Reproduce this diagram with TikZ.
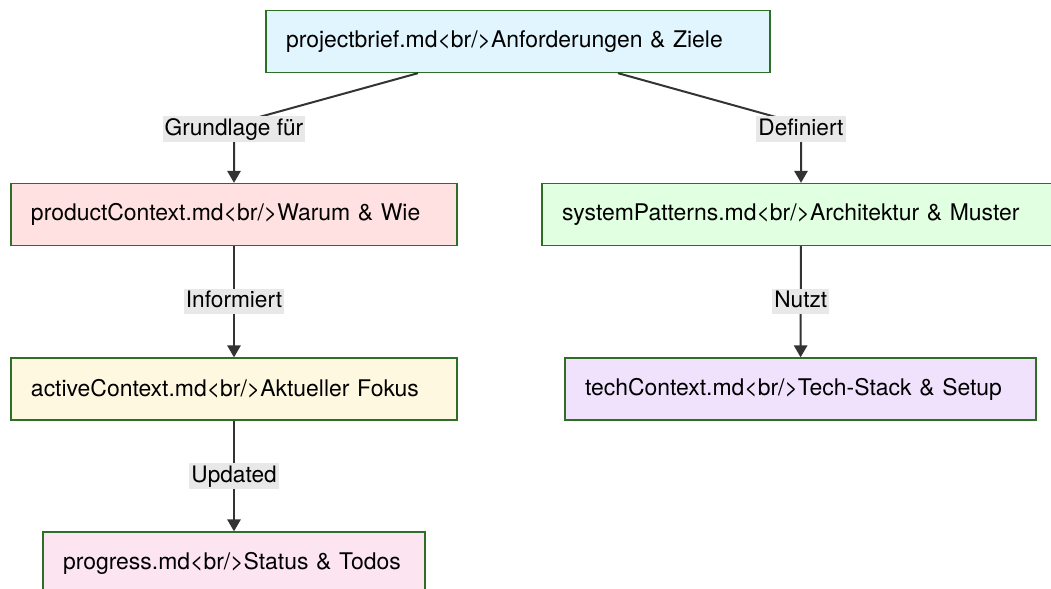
\documentclass[tikz,border=0pt]{standalone}
\usepackage{fontspec}
\setmainfont{TeX Gyre Heros}
\usetikzlibrary{arrows.meta}
\definecolor{boxgreen}{RGB}{46,110,38}
\definecolor{fillbrief}{RGB}{225,245,254}
\definecolor{fillproduct}{RGB}{255,225,225}
\definecolor{fillsystem}{RGB}{225,255,225}
\definecolor{fillactive}{RGB}{255,248,225}
\definecolor{filltech}{RGB}{240,225,252}
\definecolor{fillprogress}{RGB}{252,228,240}
\definecolor{labelgray}{RGB}{232,232,232}
\definecolor{linegray}{RGB}{51,51,51}

\begin{document}
\begin{tikzpicture}[x=0.75pt, y=-0.75pt,
    mdfile/.style={draw=boxgreen, line width=1pt, minimum height=46.5pt, inner xsep=15pt, inner ysep=0pt, text width=#1, align=left, font=\fontsize{17.2}{20}\selectfont},
    link/.style={draw=linegray, line width=1.5pt, rounded corners=12pt, -{Triangle[length=9pt, width=10pt]}},
    edgelabel/.style={fill=labelgray, sharp corners, inner sep=1.5pt, text height=12.5pt, text depth=3.5pt, text=black, font=\fontsize{17}{20}\selectfont}]
    \useasboundingbox (0,0) rectangle (1051,589);
    % Nodes
    \node[mdfile=348pt, fill=fillbrief] (brief) at (518,41.5) {projectbrief.md<br/>Anforderungen \& Ziele};
    \node[mdfile=304.5pt, fill=fillproduct] (product) at (234,214.5) {productContext.md<br/>Warum \& Wie};
    \node[mdfile=358.5pt, fill=fillsystem] (system) at (801,214.5) {systemPatterns.md<br/>Architektur \& Muster};
    \node[mdfile=304.5pt, fill=fillactive] (active) at (234,389) {activeContext.md<br/>Aktueller Fokus};
    \node[mdfile=323.25pt, fill=filltech] (tech) at (800.5,389) {techContext.md<br/>Tech-Stack \& Setup};
    \node[mdfile=256.5pt, fill=fillprogress] (progress) at (234,563) {progress.md<br/>Status \& Todos};
    % Bends
    \coordinate (bendL) at (234,124);
    \coordinate (bendR) at (801,124);
    % Top arrows
    \draw[link] ([xshift=-75pt]brief.south) -- (bendL) -- (product.north);
    \node[edgelabel] (lblbase) at (234,129) {Grundlage für};
    \draw[link] ([xshift=75pt]brief.south) -- (bendR) -- (system.north);
    \node[edgelabel] (lbldef) at (801,129) {Definiert\ };
    % Left column
    \draw[link] (product) -- (active) node[edgelabel, midway] (lblinfo) {Informiert\ };
    \draw[link] (active) -- (progress) node[edgelabel, midway] (lblupd) {Updated};
    % Right column
    \draw[link] (system) -- (tech) node[edgelabel, midway] (lbluse) {Nutzt};
\end{tikzpicture}
\end{document}
